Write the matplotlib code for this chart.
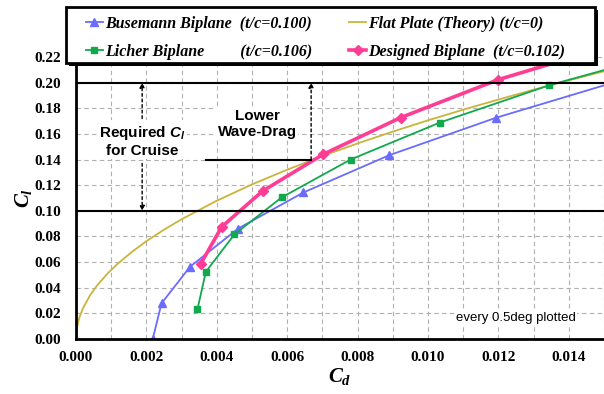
import matplotlib.pyplot as plt
from matplotlib.patches import Rectangle
from matplotlib.ticker import MultipleLocator

# Busemann biplane (t/c=0.100), one marker per 0.5 deg
bus_cd = [0.00218, 0.00243, 0.00324, 0.00461, 0.00646, 0.00890, 0.01192, 0.01550]
bus_cl = [0.0000, 0.0278, 0.0564, 0.0862, 0.1143, 0.1434, 0.1725, 0.2020]

# Licher biplane (t/c=0.106)
lic_cd = [0.00345, 0.00369, 0.00450, 0.00584, 0.00780, 0.01034, 0.01345, 0.01700]
lic_cl = [0.0231, 0.0525, 0.0816, 0.1104, 0.1400, 0.1689, 0.1980, 0.2250]

# Designed biplane (t/c=0.102)
des_cd = [0.00354, 0.00414, 0.00530, 0.00703, 0.00923, 0.01200, 0.01560]
des_cl = [0.0585, 0.0875, 0.1154, 0.1442, 0.1728, 0.2024, 0.2320]

# flat plate theory (t/c=0)
fp_cd = [0.0, 0.00003, 0.0001, 0.0002, 0.0004, 0.0006, 0.0009, 0.0012, 0.0016,
         0.0020, 0.0025, 0.0030, 0.0040, 0.0050, 0.0060, 0.0070, 0.0080,
         0.0090, 0.0100, 0.0110, 0.0120, 0.0130, 0.0140, 0.0150]
fp_cl = [0.0, 0.0093, 0.0171, 0.0241, 0.0341, 0.0418, 0.0512, 0.0591, 0.0682,
         0.0763, 0.0853, 0.0934, 0.1079, 0.1206, 0.1321, 0.1427, 0.1526,
         0.1618, 0.1706, 0.1789, 0.1868, 0.1945, 0.2018, 0.2089]

serif = "Liberation Serif"
sans = "Liberation Sans"

plt.rcParams["mathtext.fontset"] = "custom"
plt.rcParams["mathtext.it"] = "Liberation Serif:italic:bold"
plt.rcParams["mathtext.rm"] = "Liberation Serif:bold"
plt.rcParams["mathtext.sf"] = "Liberation Sans:italic:bold"

W, H = 604, 394
fig = plt.figure(figsize=(W / 100, H / 100), dpi=100)
ax = fig.add_axes([0.1258, 0.1396, 0.8742, 0.7157])

l_bus, = ax.plot(bus_cd, bus_cl, color="#6b6bff", lw=1.3, marker="^", ms=6)
l_fp, = ax.plot(fp_cd, fp_cl, color="#cbb43a", lw=1.3)
l_lic, = ax.plot(lic_cd, lic_cl, color="#12a84e", lw=1.3, marker="s", ms=5)
l_des, = ax.plot(des_cd, des_cl, color="#ff3d94", lw=2.6, marker="D", ms=5)

ax.set_xlim(0, 0.015)
ax.set_ylim(0, 0.22)
ax.xaxis.set_major_locator(MultipleLocator(0.002))
ax.xaxis.set_minor_locator(MultipleLocator(0.001))
ax.yaxis.set_major_locator(MultipleLocator(0.02))
ax.grid(True, which="both", linestyle=(0, (4, 3)), color="#b0b0b0", lw=0.8)
ax.tick_params(axis="x", which="both", length=0, pad=9)
ax.tick_params(axis="y", which="both", length=0, pad=11)
ax.xaxis.set_major_formatter(plt.FuncFormatter(lambda v, p: f"{v:.3f}"))
ax.yaxis.set_major_formatter(plt.FuncFormatter(lambda v, p: f"{v:.2f}"))
for lab in ax.get_xticklabels() + ax.get_yticklabels():
    lab.set_fontfamily(serif)
    lab.set_fontweight("bold")
    lab.set_fontsize(11)

for s in ["top", "right"]:
    ax.spines[s].set_visible(False)
for s in ["left", "bottom"]:
    ax.spines[s].set_linewidth(2)

# required Cl band
ax.axhline(0.10, color="black", lw=1.5)
ax.axhline(0.20, color="black", lw=1.5)
ax.plot([0.0037, 0.00668], [0.14, 0.14], color="black", lw=1.5)

arrow = dict(arrowstyle="-|>", linestyle=(0, (2, 2)), color="black", lw=1,
             mutation_scale=7, shrinkA=0, shrinkB=0)
ax.annotate("", xy=(0.00188, 0.20), xytext=(0.00188, 0.172), arrowprops=arrow)
ax.annotate("", xy=(0.00188, 0.10), xytext=(0.00188, 0.137), arrowprops=arrow)
ax.annotate("", xy=(0.00668, 0.20), xytext=(0.00668, 0.14), arrowprops=arrow)

ax.text(0.00188, 0.1545, "Required $\\mathsf{C_l}$\nfor Cruise", ha="center",
        va="center", fontfamily=sans, fontweight="bold", fontsize=11,
        linespacing=1.2,
        bbox=dict(facecolor="white", edgecolor="none", pad=1))
ax.text(0.00515, 0.168, "Lower\nWave-Drag", ha="center", va="center",
        fontfamily=sans, fontweight="bold", fontsize=11, linespacing=1.2,
        bbox=dict(facecolor="white", edgecolor="none", pad=1))
ax.text(0.0125, 0.0165, "every 0.5deg plotted", ha="center", va="center",
        fontfamily=sans, fontsize=9.5,
        bbox=dict(facecolor="white", edgecolor="none", pad=1))

ax.set_xlabel("$C_d$", fontsize=15, labelpad=1)
ax.set_ylabel("$C_l$", fontsize=15, labelpad=0)

# legend box with a small shadow, placed in figure pixels
fig.patches.append(Rectangle((69 / W, 1 - 66 / H), 529 / W, 56 / H,
                             transform=fig.transFigure, facecolor="black",
                             edgecolor="none", zorder=3))
fig.patches.append(Rectangle((66 / W, 1 - 63 / H), 529 / W, 56 / H,
                             transform=fig.transFigure, facecolor="white",
                             edgecolor="black", lw=2, zorder=4))

handles = [l_bus, l_lic, l_fp, l_des]
labels = ["Busemann Biplane  (t/c=0.100)",
          "Licher Biplane         (t/c=0.106)",
          "Flat Plate (Theory) (t/c=0)",
          "Designed Biplane  (t/c=0.102)"]
leg = fig.legend(handles, labels, loc="upper left",
                 bbox_to_anchor=(86 / W, 1 - 16 / H), ncol=2, frameon=False,
                 handlelength=1.05, handletextpad=0.15, borderpad=0,
                 borderaxespad=0, labelspacing=0.72, columnspacing=2.3,
                 prop=dict(family=serif, weight="bold", style="italic",
                           size=11.5))
leg.set_zorder(5)

fig.savefig("out.png", dpi=100)
